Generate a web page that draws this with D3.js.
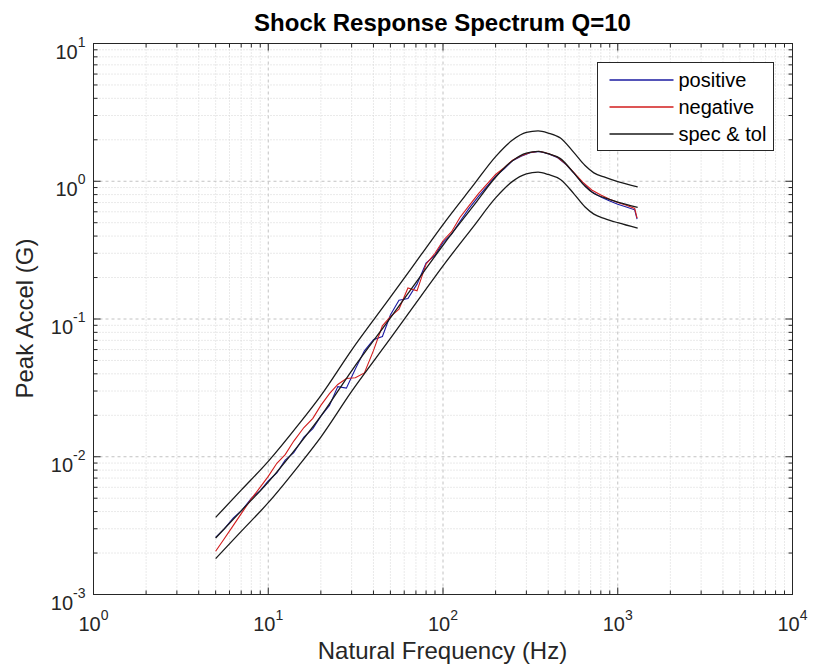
<!DOCTYPE html>
<html>
<head>
<meta charset="utf-8">
<script src="https://cdnjs.cloudflare.com/ajax/libs/d3/7.8.5/d3.min.js"></script>
<style>
  body { margin: 0; background: #fff; }
  svg { display: block; }
  text { font-family: "Liberation Sans", Arial, sans-serif; }
</style>
</head>
<body>
<div id="srs"></div>
<script>
// spec curve with +/- 3 dB tolerance
var specFreq  = [5, 7, 10, 15, 20, 30, 50, 75, 100, 150, 200, 250, 300, 350, 400, 470, 560, 650, 730, 850, 1000, 1300];
var specNom   = [0.00257, 0.00405, 0.00655, 0.01225, 0.0197, 0.0421, 0.102, 0.2075, 0.343, 0.668, 1.07, 1.41, 1.60, 1.645, 1.585, 1.46, 1.15, 0.92, 0.815, 0.755, 0.706, 0.645];
var specUpper = [0.00363, 0.00572, 0.00925, 0.0173, 0.0278, 0.0595, 0.144, 0.293, 0.485, 0.944, 1.51, 1.99, 2.26, 2.32, 2.24, 2.06, 1.62, 1.30, 1.15, 1.065, 0.995, 0.91];
var specLower = [0.00182, 0.00287, 0.00464, 0.00867, 0.0139, 0.0298, 0.0722, 0.147, 0.243, 0.473, 0.757, 0.998, 1.13, 1.164, 1.12, 1.03, 0.814, 0.65, 0.577, 0.534, 0.50, 0.456];

// measured response
var measFreq = [5, 5.6, 6.3, 7.1, 8, 9, 10, 11.2, 12.5, 14, 16, 18, 20, 22.4, 25, 28, 31.5, 35.5, 40, 45,
                50, 56, 63, 71, 80, 90, 100, 112, 125, 140, 160, 180, 200, 224, 250, 280, 315, 355, 400, 450,
                500, 560, 630, 710, 800, 900, 1000, 1120, 1250, 1290];
var posAccel = [0.0026, 0.0030, 0.00358, 0.00412, 0.00498, 0.00568, 0.00668, 0.00764, 0.00944, 0.0107,
                0.0139, 0.0160, 0.0197, 0.0236, 0.0323, 0.0315, 0.0434, 0.0587, 0.0707, 0.0747,
                0.107, 0.137, 0.141, 0.179, 0.255, 0.291, 0.36, 0.413, 0.51, 0.627,
                0.78, 0.93, 1.09, 1.23, 1.41, 1.52, 1.61, 1.645, 1.585, 1.49,
                1.34, 1.15, 0.965, 0.84, 0.77, 0.72, 0.68, 0.65, 0.62, 0.53];
var negAccel = [0.00206, 0.00254, 0.00316, 0.00396, 0.00494, 0.00602, 0.0072, 0.00897, 0.01036, 0.0130,
                0.0163, 0.019, 0.0236, 0.0287, 0.0335, 0.037, 0.0375, 0.0406, 0.0589, 0.0891,
                0.104, 0.118, 0.168, 0.16, 0.25, 0.30, 0.37, 0.43, 0.546, 0.657,
                0.817, 0.965, 1.12, 1.255, 1.42, 1.53, 1.615, 1.65, 1.59, 1.50,
                1.35, 1.16, 0.985, 0.865, 0.795, 0.74, 0.70, 0.67, 0.635, 0.54];

var xDecades = [1, 10, 100, 1000, 10000];
var yDecades = [0.001, 0.01, 0.1, 1, 10];
var legendLabels = ["positive", "negative", "spec & tol"];
var legendColors = ["#1a1aa0", "#d21c1c", "#1a1a1a"];

var margin = {top: 43, right: 22, bottom: 75, left: 93};
var fullWidth = 814, fullHeight = 669;
var width = fullWidth - margin.left - margin.right;
var height = fullHeight - margin.top - margin.bottom;
var axisColor = "#262626";

var svg = d3.select("#srs").append("svg")
    .attr("width", fullWidth)
    .attr("height", fullHeight);

svg.append("rect").attr("width", fullWidth).attr("height", fullHeight).attr("fill", "#fff");

var g = svg.append("g")
    .attr("transform", "translate(" + (margin.left + 0.5) + "," + (margin.top + 0.5) + ")");

var x = d3.scaleLog().domain([xDecades[0], xDecades[xDecades.length - 1]]).range([0, width]);
var y = d3.scaleLog().domain([yDecades[0], yDecades[yDecades.length - 1]]).range([height, 0]);

function isDecade(v) {
  var l = Math.log10(v);
  return Math.abs(l - Math.round(l)) < 1e-6;
}

var xTicks = x.ticks();
var yTicks = y.ticks();
var xInner = xTicks.filter(function(d) { return d > x.domain()[0] * 1.0001 && d < x.domain()[1] * 0.9999; });
var yInner = yTicks.filter(function(d) { return d > y.domain()[0] * 1.0001 && d < y.domain()[1] * 0.9999; });

// grid
var grid = g.append("g").attr("class", "grid");
grid.selectAll(".gx").data(xInner).enter().append("line")
    .attr("x1", function(d) { return x(d); })
    .attr("x2", function(d) { return x(d); })
    .attr("y1", 0).attr("y2", height)
    .attr("stroke", function(d) { return isDecade(d) ? "#c2c2c2" : "#d4d4d4"; })
    .attr("stroke-dasharray", function(d) { return isDecade(d) ? "3,3" : "1,2"; });
grid.selectAll(".gy").data(yInner).enter().append("line")
    .attr("y1", function(d) { return y(d); })
    .attr("y2", function(d) { return y(d); })
    .attr("x1", 0).attr("x2", width)
    .attr("stroke", function(d) { return isDecade(d) ? "#c2c2c2" : "#d4d4d4"; })
    .attr("stroke-dasharray", function(d) { return isDecade(d) ? "3,3" : "1,2"; });

// lines
var line = d3.line()
    .x(function(d) { return x(d[0]); })
    .y(function(d) { return y(d[1]); });
var smooth = d3.line()
    .x(function(d) { return x(d[0]); })
    .y(function(d) { return y(d[1]); })
    .curve(d3.curveMonotoneX);

function pairs(fs, vs) { return fs.map(function(f, i) { return [f, vs[i]]; }); }

g.append("path").datum(pairs(measFreq, posAccel))
    .attr("d", line).attr("fill", "none").attr("stroke", legendColors[0]).attr("stroke-width", 1.1);
g.append("path").datum(pairs(measFreq, negAccel))
    .attr("d", line).attr("fill", "none").attr("stroke", legendColors[1]).attr("stroke-width", 1.1);

[specUpper, specNom, specLower].forEach(function(vals) {
  g.append("path").datum(pairs(specFreq, vals))
      .attr("d", smooth).attr("fill", "none").attr("stroke", legendColors[2]).attr("stroke-width", 1.3);
});

// box
g.append("rect").attr("width", width).attr("height", height)
    .attr("fill", "none").attr("stroke", axisColor).attr("stroke-width", 1);

// ticks on all four sides, pointing inward
var tk = g.append("g").attr("stroke", axisColor).attr("stroke-width", 1);
function tlen(d) { return isDecade(d) ? 7 : 4; }
xInner.forEach(function(d) {
  tk.append("line").attr("x1", x(d)).attr("x2", x(d)).attr("y1", height).attr("y2", height - tlen(d));
  tk.append("line").attr("x1", x(d)).attr("x2", x(d)).attr("y1", 0).attr("y2", tlen(d));
});
yInner.forEach(function(d) {
  tk.append("line").attr("y1", y(d)).attr("y2", y(d)).attr("x1", 0).attr("x2", tlen(d));
  tk.append("line").attr("y1", y(d)).attr("y2", y(d)).attr("x1", width).attr("x2", width - tlen(d));
});

// tick labels as 10^n
function expOf(d) { return String(Math.round(Math.log10(d))); }

var xl = g.selectAll(".xlab").data(xDecades).enter().append("text")
    .attr("x", function(d) { return x(d); })
    .attr("y", height + 36)
    .attr("text-anchor", "middle")
    .attr("fill", axisColor)
    .style("font-size", "20px");
xl.append("tspan").text("10");
xl.append("tspan").attr("dy", -11).style("font-size", "14px").text(expOf);

var yl = g.selectAll(".ylab").data(yDecades).enter().append("text")
    .attr("x", -8)
    .attr("y", function(d) { return y(d) + 15; })
    .attr("text-anchor", "end")
    .attr("fill", axisColor)
    .style("font-size", "20px");
yl.append("tspan").text("10");
yl.append("tspan").attr("dy", -12).style("font-size", "14px").text(expOf);

// title and axis labels
svg.append("text")
    .attr("x", margin.left + width / 2)
    .attr("y", 31)
    .attr("text-anchor", "middle")
    .style("font-size", "24px")
    .style("font-weight", "bold")
    .attr("fill", "#000")
    .text("Shock Response Spectrum Q=10");

svg.append("text")
    .attr("x", margin.left + width / 2)
    .attr("y", 659)
    .attr("text-anchor", "middle")
    .style("font-size", "24px")
    .attr("fill", axisColor)
    .text("Natural Frequency (Hz)");

svg.append("text")
    .attr("transform", "translate(33," + (margin.top + height / 2) + ") rotate(-90)")
    .attr("text-anchor", "middle")
    .style("font-size", "24px")
    .attr("fill", axisColor)
    .text("Peak Accel (G)");

// legend
var legend = svg.append("g").attr("transform", "translate(597.5,62.5)");
legend.append("rect").attr("width", 176).attr("height", 88)
    .attr("fill", "#fff").attr("stroke", axisColor).attr("stroke-width", 1);
var rows = legend.selectAll(".lg").data(legendLabels).enter().append("g")
    .attr("transform", function(d, i) { return "translate(0," + (17.5 + i * 27) + ")"; });
rows.append("line").attr("x1", 12).attr("x2", 76).attr("y1", 0).attr("y2", 0)
    .attr("stroke", function(d, i) { return legendColors[i]; }).attr("stroke-width", 1.3);
rows.append("text").attr("x", 81).attr("y", 7)
    .style("font-size", "20px")
    .attr("fill", "#000")
    .text(function(d) { return d; });
</script>
</body>
</html>
